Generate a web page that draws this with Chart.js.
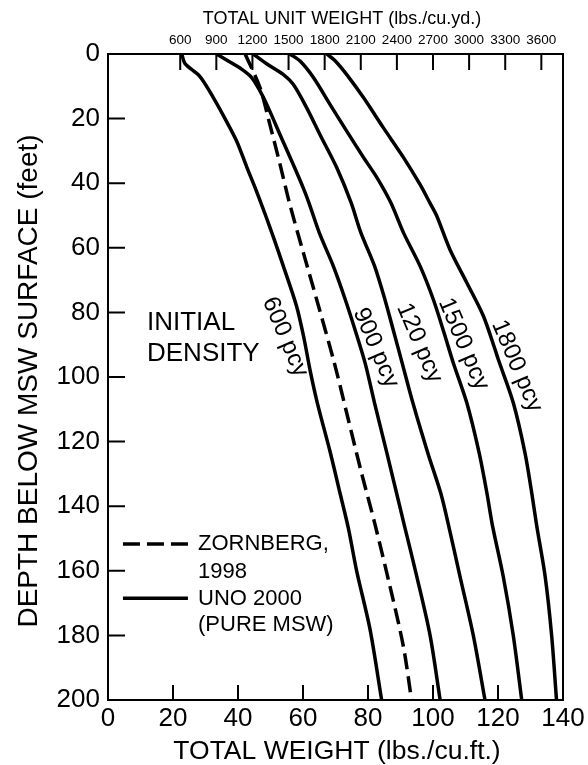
<!DOCTYPE html>
<html><head><meta charset="utf-8">
<script src="https://cdn.jsdelivr.net/npm/chart.js@4"></script>
<style>html,body{margin:0;padding:0;background:#fff}#wrap{width:588px;height:765px;position:relative}</style>
</head><body><div id="wrap"><canvas id="c"></canvas></div>
<script>
// ---- data ----
const bottomTicks = [0, 20, 40, 60, 80, 100, 120, 140];
const depthTicks = [0, 20, 40, 60, 80, 100, 120, 140, 160, 180, 200];
const topTicks = [600, 900, 1200, 1500, 1800, 2100, 2400, 2700, 3000, 3300, 3600];
const CUFT_PER_CUYD = 27;

const w600 = [22.7, 23.7, 28.3, 32.4, 36.0, 39.6, 42.7, 45.7, 48.5, 51.0, 53.9, 58.0, 60.3, 62.2, 64.4, 68.3, 71.4, 74.0, 76.5, 80.6, 84.2];
const d600 = [0, 3, 7, 13.5, 20, 27, 35, 42.5, 50, 57, 65.5, 78, 88, 98, 108, 123, 136, 147, 160, 178, 200];

const wZorn = [42.2, 46.8, 49.8, 52.9, 55.8, 60.1, 64.2, 69.6, 73.9, 78.0, 82.0, 86.8, 90.9, 93.4];
const dZorn = [0, 10.5, 21.8, 34, 46, 61.5, 76, 95.5, 113, 129.7, 145, 165, 183.5, 200];

const w900 = [33.4, 37.0, 41.1, 44.2, 46.8, 49.3, 52.9, 57.0, 60.1, 61.8, 65.0, 69.3, 73.0, 76.3, 79.2, 82.0, 85.8, 88.8, 91.2, 95.0, 99.1, 102.2];
const d900 = [0, 2.2, 4.7, 7.3, 11.5, 16.6, 24.9, 34.2, 41.5, 46, 55.3, 65.6, 76, 86.3, 96, 108, 123.5, 136, 146, 161.7, 180, 200];

const w1200 = [44.7, 48.8, 53.9, 57.0, 61.1, 65.2, 70.4, 74.8, 77.8, 82.0, 85.2, 88.0, 90.6, 93.8, 98.4, 102.4, 104.8, 108.3, 112.4, 116.0];
const d1200 = [0, 3, 6.3, 9.4, 16.6, 24.9, 35.2, 46, 55.3, 65.6, 76, 86.3, 96, 108, 123.5, 136, 146, 161.7, 180, 200];

const w1500 = [56.0, 59.1, 63.2, 68.3, 73.4, 78.6, 82.7, 87.0, 90.9, 96.0, 100.1, 103.4, 106.2, 110.4, 114.2, 116.6, 118.3, 121.6, 124.7, 127.3];
const d1500 = [0, 2.2, 7.3, 15.6, 23.8, 32, 38.2, 46, 55.3, 65.6, 76, 86.3, 95.5, 108, 123.5, 136, 146, 161.7, 180, 200];

const w1800 = [67.3, 69.8, 73.4, 78.6, 84.7, 90.9, 96.0, 99.0, 101.1, 105.2, 110.4, 115.5, 119.1, 120.1, 124.7, 128.3, 130.4, 131.9, 134.5, 136.5, 138.0];
const d1800 = [0, 2, 6.3, 13.5, 22.8, 32, 40.4, 46, 50, 60.5, 70.8, 81.1, 91.5, 94.6, 108, 123.5, 136, 146, 161.7, 180, 200];

const curveLabels = ["600 pcy", "900 pcy", "120 pcy", "1500 pcy", "1800 pcy"];
const legendLabels = ["ZORNBERG,", "1998", "UNO 2000", "(PURE MSW)"];
const noteLabels = ["INITIAL", "DENSITY"];
const titleX = "TOTAL WEIGHT (lbs./cu.ft.)";
const titleX2 = "TOTAL UNIT WEIGHT (lbs./cu.yd.)";
const titleY = "DEPTH BELOW MSW SURFACE (feet)";

// ---- build ----
const FONT = '"Liberation Sans", Arial, Helvetica, sans-serif';
const pts = (w, d) => w.map((v, i) => ({ x: v, y: d[i] }));
const solid = (label, w, d) => ({ label, data: pts(w, d), borderColor: '#000', borderWidth: 3.5, pointRadius: 0, showLine: true, tension: 0.3, fill: false, xAxisID: 'x', yAxisID: 'y' });

const datasets = [
  solid('600 pcy', w600, d600),
  Object.assign(solid('ZORNBERG, 1998', wZorn, dZorn), { borderDash: [16, 7] }),
  solid('900 pcy', w900, d900),
  solid('1200 pcy', w1200, d1200),
  solid('1500 pcy', w1500, d1500),
  solid('1800 pcy', w1800, d1800)
];

const labelAnchors = [[54.5, 87.6], [82.4, 91.0], [95.8, 89.5], [109.4, 89.8], [125.8, 96.6]];

const decor = {
  id: 'decor',
  afterDatasetsDraw(chart) {
    const { ctx, chartArea: a, scales } = chart;
    const xs = scales.x, ys = scales.y, x2 = scales.x2;
    ctx.save();
    ctx.strokeStyle = '#000'; ctx.fillStyle = '#000';
    // frame
    ctx.lineWidth = 2;
    ctx.strokeRect(a.left, a.top, a.right - a.left, a.bottom - a.top);
    // inward ticks
    ctx.beginPath();
    depthTicks.forEach(v => { const y = ys.getPixelForValue(v); ctx.moveTo(a.left, y); ctx.lineTo(a.left + 17, y); });
    bottomTicks.forEach(v => { const x = xs.getPixelForValue(v); ctx.moveTo(x, a.bottom); ctx.lineTo(x, a.bottom - 15); });
    topTicks.forEach(v => { const x = x2.getPixelForValue(v); ctx.moveTo(x, a.top); ctx.lineTo(x, a.top + 16); });
    ctx.stroke();
    // curve labels
    ctx.font = '24px ' + FONT; ctx.textAlign = 'center'; ctx.textBaseline = 'middle';
    curveLabels.forEach((t, i) => {
      const px = xs.getPixelForValue(labelAnchors[i][0]), py = ys.getPixelForValue(labelAnchors[i][1]);
      ctx.save(); ctx.translate(px, py); ctx.rotate(67 * Math.PI / 180); ctx.fillText(t, 0, 0); ctx.restore();
    });
    // INITIAL DENSITY
    ctx.font = '26px ' + FONT; ctx.textAlign = 'left';
    ctx.fillText(noteLabels[0], xs.getPixelForValue(12.0), ys.getPixelForValue(83.3));
    ctx.fillText(noteLabels[1], xs.getPixelForValue(12.0), ys.getPixelForValue(92.9));
    // legend
    const lx0 = xs.getPixelForValue(4.6), lx1 = xs.getPixelForValue(24.6);
    ctx.lineWidth = 3.5;
    ctx.setLineDash([17, 7]);
    ctx.beginPath(); ctx.moveTo(lx0, ys.getPixelForValue(151.7)); ctx.lineTo(lx1, ys.getPixelForValue(151.7)); ctx.stroke();
    ctx.setLineDash([]);
    ctx.beginPath(); ctx.moveTo(lx0, ys.getPixelForValue(168.5)); ctx.lineTo(lx1, ys.getPixelForValue(168.5)); ctx.stroke();
    ctx.font = '22px ' + FONT;
    const rows = [151.7, 160.2, 168.6, 176.8];
    legendLabels.forEach((t, i) => ctx.fillText(t, xs.getPixelForValue(27.7), ys.getPixelForValue(rows[i])));
    // axis titles
    ctx.textBaseline = 'alphabetic'; ctx.textAlign = 'center';
    ctx.font = '18px ' + FONT;
    ctx.fillText(titleX2, 342, 24);
    ctx.font = '26.5px ' + FONT;
    ctx.fillText(titleX, 337, 759);
    ctx.font = '28px ' + FONT;
    ctx.save(); ctx.translate(37, 381); ctx.rotate(-Math.PI / 2); ctx.fillText(titleY, 0, 0); ctx.restore();
    ctx.restore();
  }
};

new Chart(document.getElementById('c'), {
  type: 'scatter',
  data: { datasets },
  options: {
    responsive: true, maintainAspectRatio: false, animation: false,
    layout: { padding: { left: 0, right: 25, top: 0, bottom: 0 } },
    plugins: { legend: { display: false }, tooltip: { enabled: false } },
    scales: {
      x: {
        type: 'linear', position: 'bottom', min: 0, max: 140,
        grid: { display: false, drawTicks: false }, border: { display: false },
        afterBuildTicks: s => { s.ticks = bottomTicks.map(v => ({ value: v })); },
        afterFit: s => { s.height = 65; },
        ticks: { color: '#000', font: { family: FONT, size: 26 }, padding: 3, maxRotation: 0, autoSkip: false, callback: v => String(v) }
      },
      x2: {
        type: 'linear', position: 'top', min: 0, max: 140 * CUFT_PER_CUYD,
        grid: { display: false, drawTicks: false }, border: { display: false },
        afterBuildTicks: s => { s.ticks = topTicks.map(v => ({ value: v })); },
        afterFit: s => { s.height = 54; },
        ticks: { color: '#000', font: { family: FONT, size: 13.5 }, padding: 6, maxRotation: 0, autoSkip: false, callback: v => String(v) }
      },
      y: {
        type: 'linear', reverse: true, min: 0, max: 200,
        grid: { display: false, drawTicks: false }, border: { display: false },
        afterBuildTicks: s => { s.ticks = depthTicks.map(v => ({ value: v })); },
        afterFit: s => { s.width = 108; },
        ticks: { color: '#000', font: { family: FONT, size: 26 }, padding: 8, autoSkip: false, callback: v => String(v) }
      }
    }
  },
  plugins: [decor]
});
</script></body></html>
